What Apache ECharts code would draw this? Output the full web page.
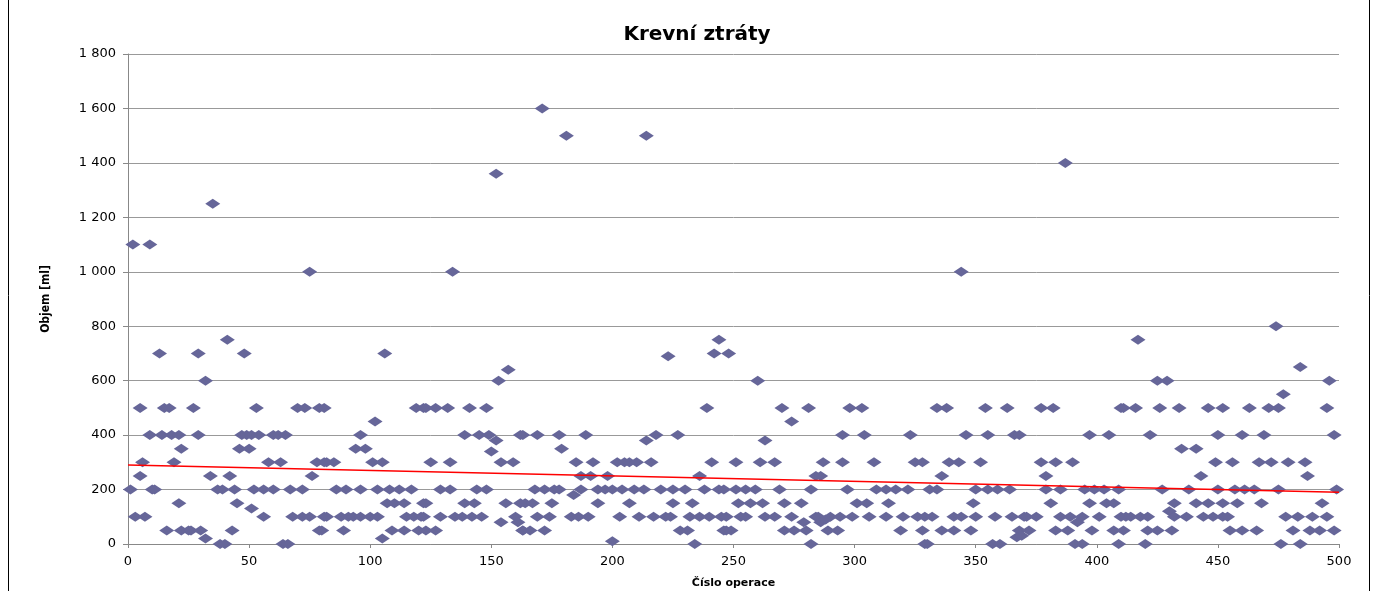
<!DOCTYPE html>
<html>
<head>
<meta charset="utf-8">
<script src="https://cdn.jsdelivr.net/npm/echarts@6/dist/echarts.min.js"></script>
<style>
  html, body { margin: 0; padding: 0; background: #fff; }
  #chart { width: 1377px; height: 591px; }
</style>
</head>
<body>
<div id="chart"></div>
<script>
// [číslo operace, objem ml]
var points = [
  [2,1100],[9,1100],[35,1250],[13,700],[29,700],[32,600],[5,500],[15,500],[17,500],[27,500],
  [9,400],[14,400],[18,400],[21,400],[29,400],[22,350],[6,300],[19,300],[5,250],[34,250],
  [1,200],[10,200],[11,200],[37,200],[21,150],[3,100],[7,100],[16,50],[22,50],[25,50],
  [26,50],[30,50],[32,20],[38,0],[40,0],
  [41,750],[48,700],[75,1000],[53,500],[70,500],[73,500],[79,500],[47,400],[49,400],[51,400],
  [54,400],[60,400],[62,400],[65,400],[46,350],[50,350],[58,300],[63,300],[78,300],[81,300],
  [42,250],[76,250],[39,200],[44,200],[52,200],[56,200],[60,200],[67,200],[72,200],[45,150],
  [51,130],[56,100],[68,100],[72,100],[75,100],[81,100],[43,50],[79,50],[64,0],[66,0],
  [106,700],[81,500],[119,500],[122,500],[102,450],[96,400],[94,350],[98,350],[82,300],[85,300],
  [101,300],[105,300],[86,200],[90,200],[96,200],[103,200],[108,200],[112,200],[117,200],[107,150],
  [110,150],[114,150],[122,150],[82,100],[88,100],[91,100],[93,100],[96,100],[100,100],[103,100],
  [115,100],[118,100],[121,100],[80,50],[89,50],[109,50],[114,50],[120,50],[105,20],
  [152,1360],[134,1000],[157,640],[153,600],[123,500],[127,500],[132,500],[141,500],[148,500],[139,400],
  [145,400],[149,400],[162,400],[152,380],[150,340],[125,300],[133,300],[154,300],[159,300],[129,200],
  [133,200],[144,200],[148,200],[123,150],[139,150],[143,150],[156,150],[162,150],[122,100],[129,100],
  [135,100],[138,100],[142,100],[146,100],[160,100],[154,80],[161,80],[123,50],[127,50],[163,50],
  [171,1600],[181,1500],[163,400],[169,400],[178,400],[189,400],[179,350],[185,300],[192,300],[202,300],
  [205,300],[187,250],[191,250],[198,250],[168,200],[172,200],[176,200],[178,200],[187,200],[194,200],
  [197,200],[200,200],[204,200],[184,180],[164,150],[167,150],[175,150],[194,150],[169,100],[174,100],
  [183,100],[186,100],[190,100],[203,100],[163,50],[166,50],[172,50],[200,10],
  [214,1500],[244,750],[223,690],[242,700],[239,500],[218,400],[227,400],[214,380],[207,300],[210,300],
  [216,300],[241,300],[236,250],[209,200],[213,200],[220,200],[225,200],[230,200],[238,200],[244,200],
  [207,150],[225,150],[233,150],[211,100],[217,100],[222,100],[224,100],[232,100],[236,100],[240,100],
  [245,100],[228,50],[231,50],[246,50],[234,0],
  [248,700],[260,600],[270,500],[281,500],[274,450],[263,380],[251,300],[261,300],[267,300],[287,300],
  [284,250],[286,250],[246,200],[251,200],[255,200],[259,200],[269,200],[282,200],[252,150],[257,150],
  [262,150],[271,150],[278,150],[247,100],[253,100],[255,100],[263,100],[267,100],[274,100],[284,100],
  [285,100],[279,80],[286,80],[247,50],[249,50],[271,50],[275,50],[280,50],[282,0],
  [298,500],[303,500],[295,400],[304,400],[323,400],[295,300],[308,300],[325,300],[328,300],[297,200],
  [309,200],[313,200],[317,200],[322,200],[301,150],[305,150],[314,150],[290,100],[294,100],[299,100],
  [306,100],[313,100],[320,100],[326,100],[288,90],[289,50],[293,50],[319,50],[328,50],[329,0],
  [344,1000],[334,500],[338,500],[354,500],[363,500],[346,400],[355,400],[366,400],[339,300],[343,300],
  [352,300],[336,250],[331,200],[334,200],[350,200],[355,200],[359,200],[364,200],[349,150],[329,100],
  [332,100],[341,100],[344,100],[350,100],[358,100],[365,100],[370,100],[336,50],[341,50],[348,50],
  [368,50],[367,25],[330,0],[357,0],[360,0],
  [387,1400],[377,500],[382,500],[410,500],[368,400],[397,400],[405,400],[377,300],[383,300],[390,300],
  [379,250],[379,200],[385,200],[395,200],[399,200],[403,200],[409,200],[381,150],[397,150],[404,150],
  [407,150],[371,100],[375,100],[385,100],[389,100],[394,100],[401,100],[410,100],[392,80],[372,50],
  [383,50],[388,50],[398,50],[407,50],[391,0],[394,0],[409,0],[369,30],
  [417,750],[425,600],[429,600],[411,500],[416,500],[426,500],[434,500],[446,500],[452,500],[422,400],
  [450,400],[435,350],[441,350],[449,300],[443,250],[427,200],[438,200],[450,200],[432,150],[441,150],
  [446,150],[452,150],[430,120],[412,100],[414,100],[418,100],[421,100],[432,100],[437,100],[444,100],
  [448,100],[452,100],[411,50],[421,50],[425,50],[431,50],[420,0],
  [474,800],[484,650],[496,600],[477,550],[463,500],[471,500],[475,500],[495,500],[460,400],[469,400],
  [498,400],[456,300],[467,300],[472,300],[479,300],[486,300],[487,250],[457,200],[461,200],[465,200],
  [475,200],[499,200],[458,150],[468,150],[493,150],[454,100],[478,100],[483,100],[489,100],[495,100],
  [455,50],[460,50],[466,50],[481,50],[488,50],[492,50],[498,50],[476,0],[484,0]
];

// lineární trend (červená čára) - koncové body
var trendX = [0, 500];
var trendY = [290, 190];

var yTicks = [0, 200, 400, 600, 800, 1000, 1200, 1400, 1600, 1800];

var myChart = echarts.init(document.getElementById("chart"));

var option = {
  animation: false,
  title: {
    text: "Krevní ztráty",
    left: 692,
    textAlign: "center",
    top: 20,
    textStyle: {
      fontFamily: "DejaVu Sans",
      fontSize: 20,
      fontWeight: "bold",
      color: "#000"
    }
  },
  graphic: [
    // rámeček oblasti grafu
    {
      type: "rect",
      shape: { x: 8.5, y: -2, width: 1361, height: 600 },
      style: { fill: "none", stroke: "#000", lineWidth: 1 },
      silent: true
    }
  ],
  grid: {
    left: 128,
    right: 38,
    top: 54,
    bottom: 47,
    containLabel: false,
    outerBoundsMode: "none"
  },
  xAxis: {
    type: "value",
    min: 0,
    max: 500,
    interval: 50,
    name: "Číslo operace",
    nameLocation: "middle",
    nameGap: 34,
    nameTextStyle: {
      fontFamily: "DejaVu Sans",
      fontSize: 11,
      fontWeight: "bold",
      color: "#000"
    },
    axisLine: { show: true, lineStyle: { color: "#888", width: 1 } },
    axisTick: { show: true, length: 4, inside: false, lineStyle: { color: "#888" } },
    axisLabel: {
      fontFamily: "DejaVu Sans",
      fontSize: 13,
      color: "#000",
      margin: 11
    },
    splitLine: { show: false }
  },
  yAxis: {
    type: "value",
    min: 0,
    max: yTicks[yTicks.length - 1],
    interval: 200,
    name: "Objem [ml]",
    nameLocation: "middle",
    nameGap: 76,
    nameTextStyle: {
      fontFamily: "Liberation Sans Narrow, DejaVu Sans Condensed, DejaVu Sans",
      fontSize: 12,
      fontWeight: "bold",
      color: "#000"
    },
    axisLine: { show: true, lineStyle: { color: "#888", width: 1 } },
    axisTick: { show: true, length: 5, lineStyle: { color: "#888" } },
    axisLabel: {
      fontFamily: "DejaVu Sans",
      fontSize: 13,
      color: "#000",
      margin: 12,
      formatter: function (v) {
        return String(v).replace(/\B(?=(\d{3})+(?!\d))/g, " ");
      }
    },
    splitLine: { show: true, lineStyle: { color: "#999", width: 1 } }
  },
  series: [
    {
      name: "Objem",
      type: "scatter",
      symbol: "diamond",
      symbolSize: [15, 10],
      itemStyle: { color: "#666699", opacity: 1 },
      data: points,
      z: 2
    },
    {
      name: "Trend",
      type: "line",
      symbol: "none",
      lineStyle: { color: "#ff0000", width: 1.5 },
      data: trendX.map(function (x, i) { return [x, trendY[i]]; }),
      z: 3
    }
  ]
};

myChart.setOption(option);
window.addEventListener("resize", function () {
  myChart.resize();
});
</script>
</body>
</html>
